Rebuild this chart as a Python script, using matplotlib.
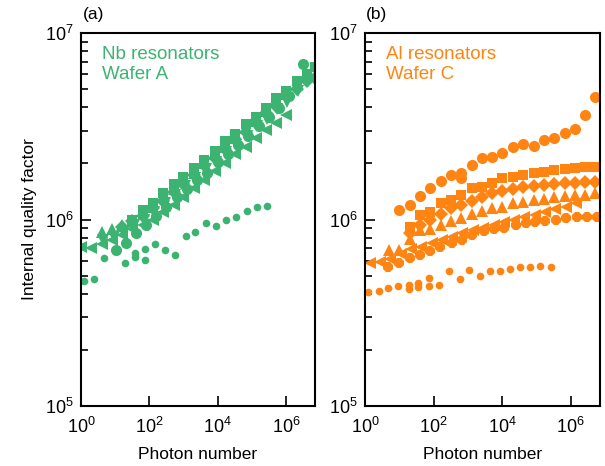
import matplotlib
matplotlib.use('Agg')
import matplotlib.pyplot as plt
from matplotlib.ticker import LogLocator, FixedLocator, NullLocator, NullFormatter

plt.rcParams['font.family'] = ['Liberation Sans', 'DejaVu Sans']
plt.rcParams['mathtext.fontset'] = 'custom'
plt.rcParams['mathtext.rm'] = 'Liberation Sans'
plt.rcParams['mathtext.it'] = 'Liberation Sans:italic'
plt.rcParams['mathtext.bf'] = 'Liberation Sans:bold'

green = '#3cb371'
orange = '#ff8412'

# ---- panel (a): Nb resonators, wafer A ----
nb_left_n = [1, 2, 4, 8, 16, 32, 64, 128, 256, 512, 1000, 2000, 4100, 8200, 1.6e4,
             3.3e4, 6.6e4, 1.3e5, 2.6e5, 5.2e5, 1.0e6]
nb_left_q = [7.1e5, 7.0e5, 7.4e5, 7.8e5, 8.3e5, 8.9e5, 9.3e5, 1.0e6, 1.1e6, 1.2e6, 1.32e6,
             1.48e6, 1.62e6, 1.82e6, 2.0e6, 2.24e6, 2.45e6, 2.75e6, 3.02e6, 3.31e6, 3.63e6]

nb_up_n = [4, 8, 16, 32, 64, 128, 256, 512, 1000, 2000, 4100, 8200, 1.6e4, 3.3e4, 6.6e4,
           1.3e5, 2.6e5, 5.2e5, 1.0e6, 2.1e6, 4.2e6]
nb_up_q = [8.6e5, 8.9e5, 9.3e5, 9.8e5, 1.07e6, 1.17e6, 1.32e6, 1.45e6, 1.62e6, 1.78e6, 2.0e6,
           2.24e6, 2.45e6, 2.75e6, 3.09e6, 3.39e6, 3.8e6, 4.27e6, 4.68e6, 5.25e6, 5.89e6]

nb_down_n = [4.5, 9, 18, 35, 71, 141, 282, 562, 1120, 2240, 4470, 8900, 1.8e4, 3.5e4, 7.1e4,
             1.4e5, 2.8e5, 5.6e5, 1.1e6, 2.2e6, 4.5e6]
nb_down_q = [7.8e5, 8.1e5, 8.7e5, 9.3e5, 1.0e6, 1.1e6, 1.23e6, 1.35e6, 1.51e6, 1.66e6, 1.86e6,
             2.04e6, 2.29e6, 2.51e6, 2.82e6, 3.16e6, 3.47e6, 3.89e6, 4.27e6, 4.9e6, 5.5e6]

nb_circ_n = [10.5, 21, 40, 79, 158, 316, 631, 1260, 2510, 5010, 1e4, 2e4, 4e4, 7.9e4, 1.6e5,
             3.2e5, 6.3e5, 1.26e6, 3.2e6]
nb_circ_q = [6.85e5, 7.5e5, 8.5e5, 9.3e5, 1.05e6, 1.17e6, 1.32e6, 1.45e6, 1.62e6, 1.78e6,
             2.04e6, 2.24e6, 2.51e6, 2.82e6, 3.16e6, 3.55e6, 3.98e6, 4.57e6, 6.8e6]

nb_sq_n = [32, 64, 128, 256, 512, 1000, 2000, 4100, 8200, 1.6e4, 3.3e4, 6.6e4, 1.3e5, 2.6e5,
           5.2e5, 1.0e6, 2.1e6, 4.2e6, 7.0e6]
nb_sq_q = [1.0e6, 1.12e6, 1.23e6, 1.38e6, 1.55e6, 1.7e6, 1.9e6, 2.09e6, 2.34e6, 2.63e6, 2.88e6,
           3.24e6, 3.55e6, 3.98e6, 4.47e6, 4.9e6, 5.5e6, 6.03e6, 6.6e6]

nb_dia_n = [16, 32, 64, 128, 256, 512, 1000, 2000, 4100, 8200, 1.6e4, 3.3e4, 6.6e4, 1.3e5,
            2.6e5, 5.2e5, 1.0e6, 2.1e6, 4.2e6, 7.0e6]
nb_dia_q = [9.1e5, 9.8e5, 1.05e6, 1.15e6, 1.26e6, 1.41e6, 1.55e6, 1.74e6, 1.95e6, 2.14e6, 2.4e6,
            2.69e6, 2.95e6, 3.31e6, 3.72e6, 4.07e6, 4.57e6, 5.0e6, 5.5e6, 5.75e6]

nb_low_n = [1.2, 2.4, 4.8, 19, 38, 38, 74, 74, 148, 290, 575, 1150, 2240, 4470, 8900, 1.78e4,
            3.47e4, 7.1e4, 1.41e5, 2.75e5]
nb_low_q = [4.68e5, 4.8e5, 6.2e5, 5.86e5, 6.6e5, 6.27e5, 6.07e5, 6.97e5, 7.4e5, 6.86e5, 6.43e5,
            8.18e5, 8.53e5, 9.62e5, 9.2e5, 1.0e6, 1.03e6, 1.11e6, 1.17e6, 1.18e6]

# ---- panel (b): Al resonators, wafer C ----
al_circ_n = [10, 20, 40, 80, 160, 320, 640, 640, 1300, 2600, 5100, 1.0e4, 2.0e4, 4.1e4, 8.2e4,
             1.6e5, 3.3e5, 6.6e5, 1.3e6, 2.6e6, 5.2e6]
al_circ_q = [1.12e6, 1.19e6, 1.34e6, 1.47e6, 1.60e6, 1.73e6, 1.77e6, 1.66e6, 1.96e6, 2.13e6,
             2.16e6, 2.26e6, 2.45e6, 2.54e6, 2.49e6, 2.67e6, 2.72e6, 2.90e6, 3.05e6, 3.63e6, 4.55e6]

al_sq_n = [20, 40, 80, 160, 320, 640, 1300, 2600, 5100, 1.0e4, 2.0e4, 4.1e4, 8.2e4, 1.6e5,
           3.3e5, 6.6e5, 1.3e6, 2.6e6, 5.2e6]
al_sq_q = [9.1e5, 1.06e6, 1.10e6, 1.22e6, 1.27e6, 1.35e6, 1.47e6, 1.50e6, 1.56e6, 1.66e6,
           1.70e6, 1.73e6, 1.77e6, 1.80e6, 1.84e6, 1.86e6, 1.88e6, 1.91e6, 1.92e6]

al_dia_n = [21, 40, 80, 160, 320, 640, 1300, 2600, 5100, 1.0e4, 2.0e4, 4.1e4, 8.2e4, 1.6e5,
            3.3e5, 6.6e5, 1.3e6, 2.6e6, 5.2e6]
al_dia_q = [8.5e5, 9.3e5, 1.0e6, 1.07e6, 1.15e6, 1.2e6, 1.26e6, 1.32e6, 1.38e6, 1.43e6, 1.46e6,
            1.5e6, 1.51e6, 1.53e6, 1.55e6, 1.57e6, 1.57e6, 1.58e6, 1.58e6]

al_up_n = [5, 10, 20, 40, 80, 160, 320, 640, 1300, 2600, 5100, 1.0e4, 2.0e4, 4.1e4, 8.2e4,
           1.6e5, 3.3e5, 6.6e5, 1.3e6, 2.6e6, 5.2e6]
al_up_q = [6.85e5, 6.85e5, 7.9e5, 8.8e5, 8.9e5, 9.3e5, 9.8e5, 1.02e6, 1.07e6, 1.11e6, 1.15e6,
           1.17e6, 1.22e6, 1.24e6, 1.27e6, 1.29e6, 1.32e6, 1.33e6, 1.35e6, 1.36e6, 1.38e6]

al_left_n = [1.4, 2.7, 5.4, 11, 22, 43, 87, 170, 350, 690, 1400, 2800, 5600, 1.1e4, 2.2e4,
             4.4e4, 8.9e4, 1.8e5, 3.5e5, 7.1e5, 1.4e6]
al_left_q = [5.82e5, 5.94e5, 6.17e5, 6.53e5, 6.92e5, 7.14e5, 7.45e5, 7.76e5, 8.09e5, 8.43e5,
             8.79e5, 8.97e5, 9.35e5, 9.72e5, 9.93e5, 1.035e6, 1.057e6, 1.10e6, 1.135e6, 1.17e6,
             1.22e6]

al_oct_n = [4.8, 10, 21, 41, 79, 155, 350, 680, 1300, 2900, 5600, 1.1e4, 2.5e4, 4.8e4, 9.3e4,
            1.8e5, 3.6e5, 7.1e5, 1.5e6, 3.0e6, 5.9e6]
al_oct_q = [5.58e5, 5.82e5, 6.19e5, 6.46e5, 6.76e5, 7.14e5, 7.52e5, 7.76e5, 8.22e5, 8.67e5,
            8.85e5, 9.04e5, 9.33e5, 9.55e5, 9.70e5, 9.86e5, 9.93e5, 1.014e6, 1.028e6, 1.035e6,
            1.035e6]

al_low_n = [1.26, 2.5, 4.8, 9.3, 19, 19, 36, 36, 71, 71, 140, 290, 580, 1100, 2200, 4300, 8500,
            1.7e4, 3.2e4, 6.6e4, 1.3e5, 2.6e5]
al_low_q = [4.10e5, 4.15e5, 4.28e5, 4.40e5, 4.46e5, 4.23e5, 4.58e5, 4.34e5, 4.84e5, 4.40e5,
            4.46e5, 5.31e5, 4.78e5, 5.36e5, 4.98e5, 5.30e5, 5.30e5, 5.41e5, 5.55e5, 5.58e5,
            5.65e5, 5.58e5]

x_ticks = [1, 1e2, 1e4, 1e6]
y_ticks = [1e5, 1e6, 1e7]

fig = plt.figure(figsize=(6.05, 4.66), dpi=100)
ax_a = fig.add_axes([81 / 605, 60 / 466, 234 / 605, 373 / 466])
ax_b = fig.add_axes([365 / 605, 60 / 466, 235 / 605, 373 / 466])

small = 5.5
ax_a.plot(nb_low_n, nb_low_q, 'o', color=green, ms=small, mew=0)
ax_a.plot(nb_left_n, nb_left_q, '<', color=green, ms=9, mew=0)
ax_a.plot(nb_up_n, nb_up_q, '^', color=green, ms=9, mew=0)
ax_a.plot(nb_down_n, nb_down_q, 'v', color=green, ms=9, mew=0)
ax_a.plot(nb_circ_n, nb_circ_q, 'o', color=green, ms=8, mew=0)
ax_a.plot(nb_sq_n, nb_sq_q, 's', color=green, ms=7.5, mew=0)
ax_a.plot(nb_dia_n, nb_dia_q, 'D', color=green, ms=7, mew=0)

ax_b.plot(al_low_n, al_low_q, 'o', color=orange, ms=small, mew=0)
ax_b.plot(al_oct_n, al_oct_q, '8', color=orange, ms=8, mew=0)
ax_b.plot(al_left_n, al_left_q, '<', color=orange, ms=9, mew=0)
ax_b.plot(al_up_n, al_up_q, '^', color=orange, ms=9, mew=0)
ax_b.plot(al_dia_n, al_dia_q, 'D', color=orange, ms=7, mew=0)
ax_b.plot(al_sq_n, al_sq_q, 's', color=orange, ms=7.5, mew=0)
ax_b.plot(al_circ_n, al_circ_q, 'o', color=orange, ms=8, mew=0)

for ax in (ax_a, ax_b):
    ax.set_xscale('log')
    ax.set_yscale('log')
    ax.set_xlim(1, 10 ** 6.85)
    ax.set_ylim(1e5, 1e7)
    ax.xaxis.set_major_locator(FixedLocator(x_ticks))
    ax.xaxis.set_minor_locator(NullLocator())
    ax.yaxis.set_major_locator(FixedLocator(y_ticks))
    ax.yaxis.set_minor_locator(LogLocator(base=10, subs=range(2, 10)))
    ax.yaxis.set_minor_formatter(NullFormatter())
    ax.tick_params(which='both', direction='in', top=False, right=False,
                   labelsize=13, width=1.2)
    ax.tick_params(which='major', length=7)
    ax.tick_params(axis='x', which='major', pad=8)
    ax.tick_params(axis='y', which='major', pad=5)
    ax.tick_params(which='minor', length=5)
    for sp in ax.spines.values():
        sp.set_linewidth(1.5)
    ax.set_xlabel('Photon number', fontsize=12.5, labelpad=7)

ax_a.set_ylabel('Internal quality factor', fontsize=12.5, labelpad=6)

ax_a.text(0.09, 0.965, 'Nb resonators\nWafer A', transform=ax_a.transAxes,
          color=green, fontsize=13.5, va='top', ha='left')
ax_b.text(0.09, 0.965, 'Al resonators\nWafer C', transform=ax_b.transAxes,
          color=orange, fontsize=13.5, va='top', ha='left')

fig.text(83 / 605, 1 - 15 / 466, '(a)', fontsize=12.5, va='center', ha='left')
fig.text(366 / 605, 1 - 15 / 466, '(b)', fontsize=12.5, va='center', ha='left')

fig.savefig('out.png', dpi=100)
